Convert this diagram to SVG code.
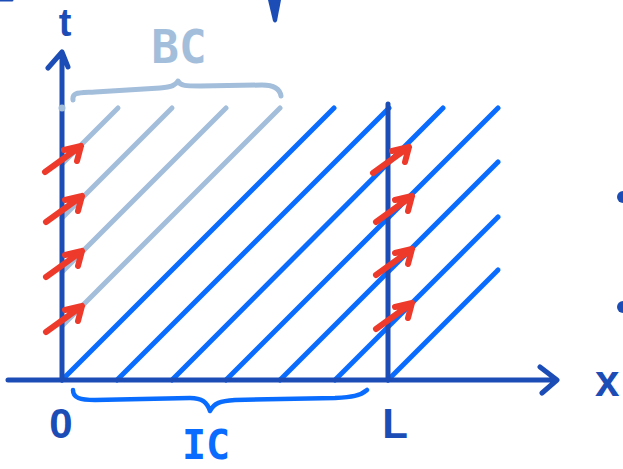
<svg xmlns="http://www.w3.org/2000/svg" xmlns:xlink="http://www.w3.org/1999/xlink" width="623" height="469" viewBox="0 0 623 469">
  <style>
    .axis { stroke: #1c4db6; stroke-width: 5; fill: none; stroke-linecap: round; stroke-linejoin: round; }
    .char { stroke: #0a6cff; stroke-width: 5; fill: none; stroke-linecap: round; }
    .bc { stroke: #a3bedb; stroke-width: 5; fill: none; stroke-linecap: round; stroke-linejoin: round; }
    .ic { stroke: #0a6cff; stroke-width: 4.5; fill: none; stroke-linecap: round; stroke-linejoin: round; }
    .red { stroke: #ee3a2a; stroke-width: 6; fill: none; stroke-linecap: round; stroke-linejoin: round; }
    .lbl { fill: #1c4db6; font-family: "Liberation Sans", Arial, sans-serif; font-weight: bold; }
    .mono { font-family: "DejaVu Sans Mono", "Liberation Mono", monospace; font-weight: bold; }
  </style>
  <defs>
    <g id="arrow">
      <path class="red" d="M-36,26 L0,0 M-17,4 L0,0 L-4,15"/>
    </g>
  </defs>
  <rect width="623" height="469" fill="#ffffff"/>

  <!-- characteristic lines (light, BC region) -->
  <g id="bc-lines">
    <line class="bc" x1="62" y1="164" x2="118" y2="108"/>
    <line class="bc" x1="62" y1="218" x2="172" y2="108"/>
    <line class="bc" x1="62" y1="272" x2="226" y2="108"/>
    <line class="bc" x1="62" y1="326" x2="280" y2="108"/>
  </g>

  <!-- characteristic lines from initial data -->
  <g id="ic-lines">
    <line class="char" x1="62" y1="380" x2="334" y2="108"/>
    <line class="char" x1="117" y1="380" x2="389" y2="108"/>
    <line class="char" x1="172" y1="380" x2="443" y2="108"/>
    <line class="char" x1="226" y1="380" x2="498" y2="108"/>
    <line class="char" x1="280" y1="380" x2="498" y2="162"/>
    <line class="char" x1="335" y1="380" x2="498" y2="217"/>
    <line class="char" x1="388" y1="380" x2="498" y2="270"/>
  </g>

  <!-- axes -->
  <g id="axes">
    <path class="axis" d="M8,380 L556,380 M540,367 L557,380 L542,393"/>
    <path class="axis" d="M62,380 L62,52 M48,68 L62,52 L68,67"/>
    <path class="axis" d="M388,380 L388,104"/>
  </g>

  <circle cx="62" cy="108" r="3.5" fill="#a3bedb"/>

  <!-- braces -->
  <g id="bc-brace">
    <path class="bc" d="M73,100 C72,92 78,93 95,92 L160,88 C172,87 176,85 178,81 C180,86 186,86 200,86 L262,85 C276,85 280,90 281,96"/>
    <text class="mono" x="179" y="63" font-size="46" text-anchor="middle" fill="#a3bedb">BC</text>
  </g>
  <g id="ic-brace">
    <path class="ic" d="M73,390 C73,398 80,400 95,400 L190,398 C202,398 207,402 210,411 C214,403 220,401 235,400 L335,398 C352,397 360,396 367,390"/>
    <text class="mono" x="206" y="459" font-size="40" text-anchor="middle" fill="#0a6cff">IC</text>
  </g>

  <!-- boundary arrows -->
  <g id="arrows-left">
    <use xlink:href="#arrow" x="81" y="146"/>
    <use xlink:href="#arrow" x="82" y="196"/>
    <use xlink:href="#arrow" x="82" y="251"/>
    <use xlink:href="#arrow" x="82" y="306"/>
  </g>
  <g id="arrows-right">
    <use xlink:href="#arrow" x="409" y="147"/>
    <use xlink:href="#arrow" x="412" y="196"/>
    <use xlink:href="#arrow" x="412" y="249"/>
    <use xlink:href="#arrow" x="412" y="303"/>
  </g>

  <!-- labels -->
  <g id="labels">
    <text class="lbl" x="65" y="36" font-size="38" text-anchor="middle">t</text>
    <text class="lbl" x="61" y="438" font-size="42" text-anchor="middle">0</text>
    <text class="lbl" x="395" y="438" font-size="42" text-anchor="middle">L</text>
    <text class="lbl" x="595" y="396" font-size="44">x</text>
  </g>

  <!-- partial marks at the edges -->
  <g id="edge-marks">
    <path d="M268,0 L281,0 L277,21 Q275,24 273,21 Z" fill="#1c4db6"/>
    <circle cx="623" cy="197" r="6" fill="#1c4db6"/>
    <circle cx="623" cy="307" r="6" fill="#1c4db6"/>
    <path d="M0,0 L12,0" stroke="#1c4db6" stroke-width="3" stroke-linecap="round"/>
  </g>
</svg>
